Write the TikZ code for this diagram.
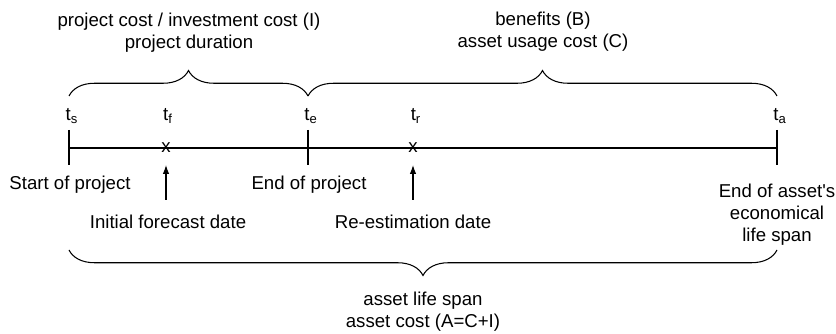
\documentclass[tikz,border=0pt]{standalone}
\usepackage{fontspec}
\setmainfont{Liberation Sans}
\usetikzlibrary{decorations.pathreplacing,arrows.meta}
\tikzset{
  txt/.style={inner sep=0pt,align=center,font=\fontsize{10.6}{12.6}\selectfont},
  tick/.style={line width=0.6pt},
  curly/.style={line width=0.6pt,decorate,decoration={brace,amplitude=14.5pt}},
  uparrow/.style={line width=0.6pt,-{Latex[length=5pt,width=3.6pt]}}
}
\begin{document}
\begin{tikzpicture}[x=0.02cm,y=-0.02cm]
\useasboundingbox (0,0) rectangle (836,334);
% time line
\coordinate (ts) at (69,148);
\coordinate (tf) at (166,148);
\coordinate (te) at (308,148);
\coordinate (tr) at (413,148);
\coordinate (ta) at (777,148);
\draw[tick] (ts) -- (ta);
\draw[tick] (69,130) -- (69,165);
\draw[tick] (308,130) -- (308,165);
\draw[tick] (777,130) -- (777,165);
\node[txt] (xf) at (tf) {x};
\node[txt] (xr) at (tr) {x};
% time labels
\node[txt] (lts) at (72,116) {t\textsubscript{s}};
\node[txt] (ltf) at (168,116) {t\textsubscript{f}};
\node[txt] (lte) at (311,116) {t\textsubscript{e}};
\node[txt] (ltr) at (416,116) {t\textsubscript{r}};
\node[txt] (lta) at (780,116) {t\textsubscript{a}};
% braces
\draw[curly] (69,96) -- (308,96);
\draw[curly] (308,96) -- (777,96);
\draw[curly] (777,250) -- (69,250);
\node[txt] (invest) at (189,33) {project cost / investment cost (I)\\project duration};
\node[txt] (benefit) at (543,32) {benefits (B)\\asset usage cost (C)};
\node[txt] (life) at (423,312) {asset life span\\asset cost (A=C+I)};
% events
\node[txt] (start) at (70,185) {Start of project};
\node[txt] (end) at (309,185) {End of project};
\node[txt] (lifeend) at (777,215) {End of asset\textquotesingle s\\economical\\life span};
\coordinate (af) at (166,200);
\coordinate (ar) at (413,200);
\draw[uparrow] (af) -- (166,165);
\draw[uparrow] (ar) -- (413,165);
\node[txt] (forecast) at (168,222) {Initial forecast date};
\node[txt] (reest) at (413,222) {Re-estimation date};
\end{tikzpicture}
\end{document}
